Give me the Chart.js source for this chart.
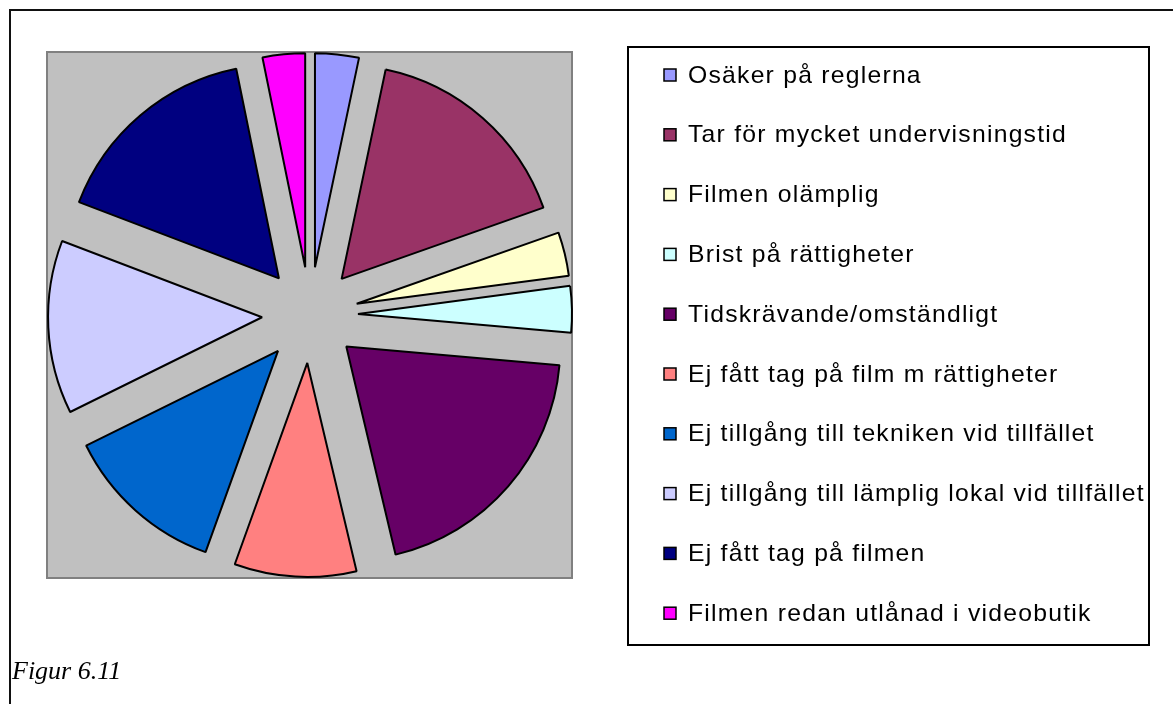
<!DOCTYPE html>
<html lang="sv">
<head>
<meta charset="UTF-8">
<title>Figur 6.11</title>
<script src="https://cdn.jsdelivr.net/npm/chart.js"></script>
<style>
  body { margin: 0; background: #fff; }
  #wrap { width: 1173px; height: 704px; }
</style>
</head>
<body>
<div id="wrap">
  <canvas id="myChart" width="1173" height="704"></canvas>
</div>

<script>
// data (share of answers, %)
const kategorier = [
  'Osäker på reglerna',
  'Tar för mycket undervisningstid',
  'Filmen olämplig',
  'Brist på rättigheter',
  'Tidskrävande/omständligt',
  'Ej fått tag på film m rättigheter',
  'Ej tillgång till tekniken vid tillfället',
  'Ej tillgång till lämplig lokal vid tillfället',
  'Ej fått tag på filmen',
  'Filmen redan utlånad i videobutik'
];
const andel = [3.3, 16.3, 3.3, 3.5, 19.9, 9.2, 12.2, 13.1, 16.0, 3.2];
const farger = ['#9999FF', '#993366', '#FFFFCC', '#CCFFFF', '#660066',
                '#FF8080', '#0066CC', '#CCCCFF', '#000080', '#FF00FF'];
const figurText = 'Figur 6.11';

// pie center (310,315), radius 214, slices pulled out 48px
const utdrag = 48;

// draws each slice moved out along its middle angle
const sprangd = {
  id: 'sprangd',
  beforeDatasetDraw(chart, args) {
    const ctx = chart.ctx;
    args.meta.data.forEach(function (arc) {
      const mitt = (arc.startAngle + arc.endAngle) / 2;
      ctx.save();
      ctx.translate(Math.cos(mitt) * utdrag, Math.sin(mitt) * utdrag);
      arc.draw(ctx);
      ctx.restore();
    });
    return false;
  }
};

// frame, grey plot area, legend box and caption
const ram = {
  id: 'ram',
  beforeDatasetsDraw(chart) {
    const ctx = chart.ctx;
    ctx.save();
    ctx.fillStyle = '#C0C0C0';
    ctx.fillRect(47, 52, 525, 526);
    ctx.strokeStyle = '#808080';
    ctx.lineWidth = 2;
    ctx.strokeRect(47, 52, 525, 526);
    ctx.restore();
  },
  afterDraw(chart) {
    const ctx = chart.ctx;
    ctx.save();
    // outer frame (top + left)
    ctx.strokeStyle = '#111';
    ctx.lineWidth = 2;
    ctx.beginPath();
    ctx.moveTo(1173, 10);
    ctx.lineTo(10, 10);
    ctx.lineTo(10, 704);
    ctx.stroke();

    // legend
    ctx.strokeStyle = '#000';
    ctx.strokeRect(628, 47, 521, 598);
    kategorier.forEach(function (namn, i) {
      const y = 75 + i * 59.8;
      ctx.fillStyle = farger[i];
      ctx.fillRect(664, y - 6, 12, 12);
      ctx.lineWidth = 1.5;
      ctx.strokeStyle = '#000';
      ctx.strokeRect(664, y - 6, 12, 12);

      ctx.save();
      ctx.translate(688, y + 1);
      ctx.scale(1.03, 1);
      ctx.font = '24px "Liberation Sans", Arial, sans-serif';
      ctx.letterSpacing = '1.2px';
      ctx.textBaseline = 'middle';
      ctx.textAlign = 'left';
      ctx.fillStyle = '#000';
      ctx.fillText(namn, 0, 0);
      ctx.restore();
    });

    // caption
    ctx.font = 'italic 26px "Liberation Serif", "Times New Roman", serif';
    ctx.textBaseline = 'alphabetic';
    ctx.fillStyle = '#000';
    ctx.fillText(figurText, 12, 679);
    ctx.restore();
  }
};

const ctx = document.getElementById('myChart');

let grafik = new Chart(ctx, {
  type: 'pie',
  data: {
    labels: kategorier,
    datasets: [{
      data: andel,
      backgroundColor: farger,
      borderColor: '#000',
      borderWidth: 2,
      radius: 214
    }]
  },
  options: {
    responsive: false,
    animation: false,
    events: [],
    layout: {
      padding: { left: 96, top: 101, right: 649, bottom: 175 }
    },
    plugins: {
      legend: { display: false },
      tooltip: { enabled: false }
    }
  },
  plugins: [ram, sprangd]
});
</script>
</body>
</html>
